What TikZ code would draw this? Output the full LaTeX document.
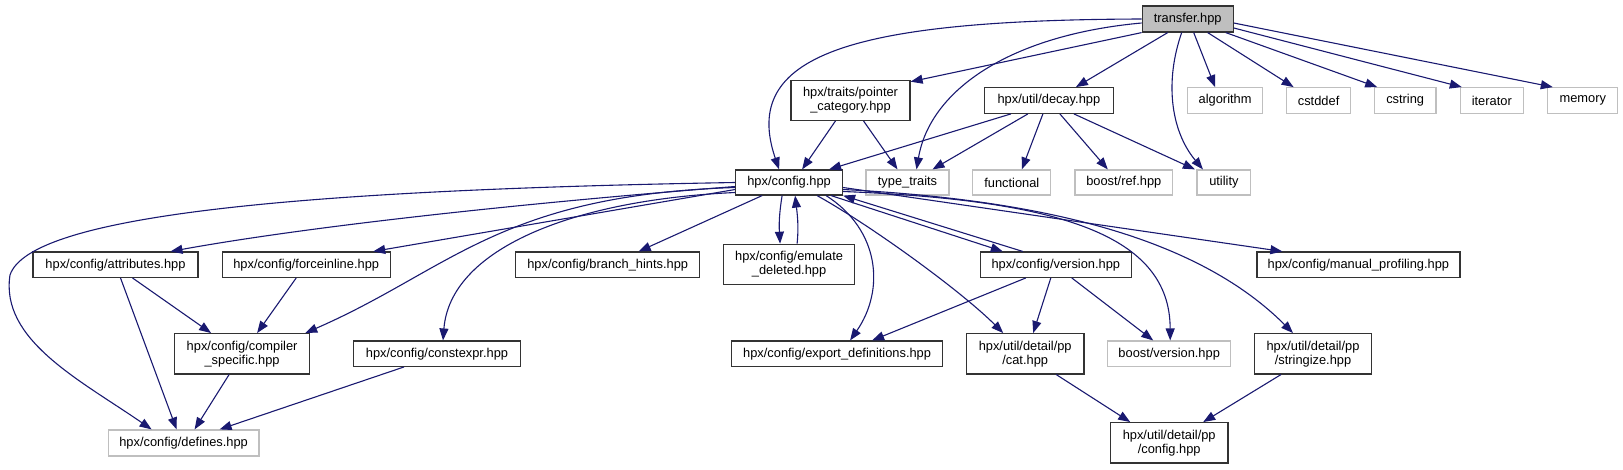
\documentclass[tikz,border=0pt]{standalone}
\usepackage{fontspec}
\setmainfont{Liberation Sans}
\usetikzlibrary{arrows.meta,calc}
\definecolor{edgecol}{RGB}{25,25,112}
\definecolor{greybox}{RGB}{191,191,191}
\begin{document}
\begin{tikzpicture}[x=1pt,y=-1pt,
  nd/.style={draw=black!80, line width=1.2pt, fill=white, inner sep=0pt, align=center,
    font=\fontsize{12.85}{14}\selectfont},
  ext/.style={nd, draw=greybox},
  cur/.style={nd, fill=greybox},
  e/.style={draw=edgecol, line width=1.1pt, -{Triangle[length=12pt,width=9pt]}}]
\useasboundingbox (0,0) rectangle (1623,469);
% row 0
\node[cur, minimum width=91pt, minimum height=26pt] (tr) at (1187.7,19) {transfer.hpp};
% row 1
\node[nd, minimum width=119pt, minimum height=40pt] (pc) at (850.5,100.3) {hpx/traits/pointer\\\_category.hpp};
\node[nd, minimum width=128.6pt, minimum height=25.6pt] (decay) at (1048.9,100.5) {hpx/util/decay.hpp};
\node[ext, minimum width=74.8pt, minimum height=25.6pt] (alg) at (1225.1,100.5) {algorithm};
\node[ext, minimum width=64.4pt, minimum height=25.6pt] (cstddef) at (1318.6,100.5) {cstddef};
\node[ext, minimum width=61.6pt, minimum height=25.6pt] (cstring) at (1405.2,100.5) {cstring};
\node[ext, minimum width=63pt, minimum height=25.6pt] (iter) at (1491.8,100.5) {iterator};
\node[ext, minimum width=70pt, minimum height=25.6pt] (mem) at (1582.8,100.5) {memory};
% row 2
\node[nd, minimum width=106.8pt, minimum height=25pt] (cfg) at (789.1,182.5) {hpx/config.hpp};
\node[ext, minimum width=83pt, minimum height=25pt] (tt) at (907.5,182.5) {type\_traits};
\node[ext, minimum width=78pt, minimum height=25pt] (func) at (1011.8,182.5) {functional};
\node[ext, minimum width=97.5pt, minimum height=25pt] (bref) at (1123.8,182.5) {boost/ref.hpp};
\node[ext, minimum width=53.7pt, minimum height=25pt] (util) at (1223.9,182.5) {utility};
% row 3
\node[nd, minimum width=165pt, minimum height=25.3pt] (attr) at (115.5,264.7) {hpx/config/attributes.hpp};
\node[nd, minimum width=168pt, minimum height=25.3pt] (force) at (306.2,264.7) {hpx/config/forceinline.hpp};
\node[nd, minimum width=184pt, minimum height=25.3pt] (branch) at (607.7,264.7) {hpx/config/branch\_hints.hpp};
\node[nd, minimum width=131pt, minimum height=40pt] (emu) at (789.1,264.3) {hpx/config/emulate\\\_deleted.hpp};
\node[nd, minimum width=151pt, minimum height=25.3pt] (ver) at (1055.8,264.7) {hpx/config/version.hpp};
\node[nd, minimum width=203pt, minimum height=25.3pt] (manual) at (1358.4,264.7) {hpx/config/manual\_profiling.hpp};
% row 4
\node[nd, minimum width=135pt, minimum height=40.3pt] (comp) at (242.1,353.8) {hpx/config/compiler\\\_specific.hpp};
\node[nd, minimum width=167.5pt, minimum height=25.3pt] (cexpr) at (437,353.7) {hpx/config/constexpr.hpp};
\node[nd, minimum width=210.7pt, minimum height=25.3pt] (export) at (837.1,353.7) {hpx/config/export\_definitions.hpp};
\node[nd, minimum width=117.5pt, minimum height=40.3pt] (cat) at (1025.2,353.8) {hpx/util/detail/pp\\/cat.hpp};
\node[ext, minimum width=123pt, minimum height=25.3pt] (bver) at (1169.2,353.7) {boost/version.hpp};
\node[nd, minimum width=117.7pt, minimum height=40.3pt] (strz) at (1313,353.8) {hpx/util/detail/pp\\/stringize.hpp};
% row 5
\node[ext, minimum width=150.7pt, minimum height=26pt] (defines) at (183.6,443) {hpx/config/defines.hpp};
\node[nd, minimum width=117.4pt, minimum height=40.3pt] (ppcfg) at (1169.2,442.8) {hpx/util/detail/pp\\/config.hpp};

% edges from transfer.hpp
\draw[e] (tr.west) .. controls (850,20) and (740,55) .. ($(cfg.north)+(-10,0)$);
\draw[e] (tr.south west) -- ($(pc.north east)+(0,2)$);
\draw[e] ($(tr.west)+(0,4)$) .. controls (1010,35) and (930,90) .. ($(tt.north)+(9,0)$);
\draw[e] ($(tr.south)+(-20,0)$) -- ($(decay.north)+(27,0)$);
\draw[e] ($(tr.south)+(-6,0)$) .. controls (1165,80) and (1170,130) .. ($(util.north)+(-21,0)$);
\draw[e] ($(tr.south)+(6,0)$) -- ($(alg.north)+(-10,0)$);
\draw[e] ($(tr.south)+(20,0)$) -- ($(cstddef.north)+(-25,0)$);
\draw[e] ($(tr.south east)+(-8,0)$) -- ($(cstring.north)+(-28,0)$);
\draw[e] ($(tr.east)+(0,9)$) -- ($(iter.north)+(-30,0)$);
\draw[e] ($(tr.east)+(0,4)$) -- ($(mem.north)+(-30,0)$);
% pointer_category
\draw[e] ($(pc.south)+(-15,0)$) -- ($(cfg.north)+(13,0)$);
\draw[e] ($(pc.south)+(13,0)$) -- ($(tt.north)+(-10,0)$);
% decay
\draw[e] ($(decay.south)+(-38,0)$) -- ($(cfg.north)+(40,0)$);
\draw[e] ($(decay.south)+(-21,0)$) -- ($(tt.north)+(25,0)$);
\draw[e] ($(decay.south)+(-6,0)$) -- ($(func.north)+(10,0)$);
\draw[e] ($(decay.south)+(11,0)$) -- ($(bref.north)+(-16,0)$);
\draw[e] ($(decay.south)+(25,0)$) -- ($(util.north)+(-29,0)$);
% config.hpp
\draw[e] (cfg.west) .. controls (300,190) and (30,215) .. (10,275) .. controls (0,340) and (80,380) .. ($(defines.north)+(-32,0)$);
\draw[e] ($(cfg.west)+(0,4)$) .. controls (500,205) and (300,228) .. ($(attr.north)+(55,0)$);
\draw[e] ($(cfg.west)+(0,7)$) -- ($(force.north)+(67,0)$);
\draw[e] ($(cfg.west)+(0,5)$) .. controls (500,195) and (450,270) .. ($(comp.north east)+(-5,0)$);
\draw[e] ($(cfg.west)+(0,10)$) .. controls (570,200) and (450,250) .. ($(cexpr.north)+(6,0)$);
\draw[e] ($(cfg.south)+(-27,0)$) -- ($(branch.north)+(31,0)$);
\draw[e] ($(cfg.south)+(-7,0)$) .. controls (779,215) and (779,225) .. ($(emu.north)+(-9,0)$);
\draw[e] ($(emu.north)+(8,0)$) .. controls (799,225) and (797,212) .. ($(cfg.south)+(6,0)$);
\draw[e] ($(cfg.south)+(37,0)$) .. controls (880,230) and (885,290) .. ($(export.north)+(13,0)$);
\draw[e] ($(cfg.south)+(28,0)$) .. controls (870,225) and (960,290) .. ($(cat.north)+(-22,0)$);
\draw[e] ($(cfg.south east)+(-12,0)$) -- ($(ver.north)+(-53,0)$);
\draw[e] ($(ver.north)+(-33,0)$) -- (cfg.south east);
\draw[e] ($(cfg.east)+(0,9)$) .. controls (1060,200) and (1170,235) .. ($(bver.north)+(1,0)$);
\draw[e] ($(cfg.east)+(0,7)$) .. controls (1050,200) and (1200,240) .. ($(strz.north)+(-20,0)$);
\draw[e] ($(cfg.east)+(0,5)$) -- ($(manual.north)+(-76,0)$);
% version.hpp
\draw[e] ($(ver.south)+(-30,0)$) -- ($(export.north)+(35,0)$);
\draw[e] ($(ver.south)+(-5,0)$) -- ($(cat.north)+(8,0)$);
\draw[e] ($(ver.south)+(16,0)$) -- ($(bver.north)+(-16,0)$);
% lower
\draw[e] ($(attr.south)+(17,0)$) -- ($(comp.north)+(-31,0)$);
\draw[e] ($(attr.south)+(5,0)$) -- ($(defines.north)+(-7,0)$);
\draw[e] ($(force.south)+(-10,0)$) -- ($(comp.north)+(15,0)$);
\draw[e] ($(comp.south)+(-13,0)$) -- ($(defines.north)+(11,0)$);
\draw[e] ($(cexpr.south)+(-33,0)$) -- ($(defines.north)+(36,0)$);
\draw[e] ($(cat.south)+(31,0)$) -- ($(ppcfg.north)+(-39,0)$);
\draw[e] ($(strz.south)+(-32,0)$) -- ($(ppcfg.north)+(34,0)$);
\end{tikzpicture}
\end{document}
